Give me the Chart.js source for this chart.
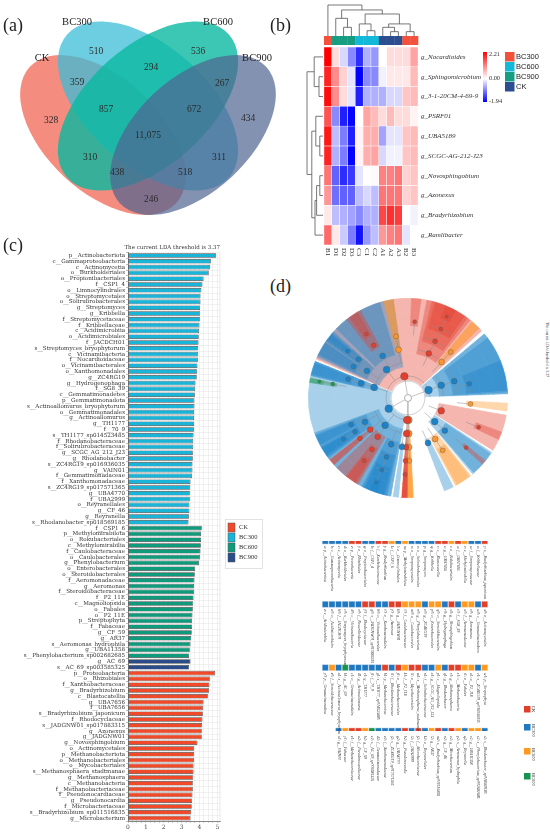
<!DOCTYPE html>
<html>
<head>
<meta charset="utf-8">
<script src="https://cdn.jsdelivr.net/npm/chart.js@4.4.1/dist/chart.umd.min.js"></script>
<style>
html,body{margin:0;padding:0;background:#fff;}
body{position:relative;width:550px;height:834px;overflow:hidden;}
canvas{position:absolute;}
.pl{position:absolute;font-family:"Liberation Serif","DejaVu Serif",serif;font-size:18px;line-height:1;color:#222;}
.rot{position:absolute;font-family:"Liberation Serif",serif;font-size:4px;line-height:1;color:#444;transform-origin:0 0;transform:rotate(90deg);white-space:nowrap;}
</style>
</head>
<body>
<canvas id="cVenn" width="300" height="220" style="left:0;top:0"></canvas>
<canvas id="cHeat" width="260" height="262" style="left:290px;top:0"></canvas>
<canvas id="cLda" width="270" height="596" style="left:0;top:238px"></canvas>
<canvas id="cClado" width="210" height="210" style="left:303px;top:293px"></canvas>
<canvas id="cTable" width="250" height="304" style="left:300px;top:530px"></canvas>
<div class="pl" style="left:3px;top:16px">(a)</div>
<div class="pl" style="left:270px;top:16px">(b)</div>
<div class="pl" style="left:3px;top:236px">(c)</div>
<div class="pl" style="left:270px;top:277px">(d)</div>
<div class="rot" style="left:549px;top:322px">The current LDA threshold is 3.37</div>
<script>
Chart.defaults.animation = false;
Chart.defaults.font.family = '"Liberation Serif", serif';
Chart.defaults.plugins.legend.display = false;
Chart.defaults.plugins.tooltip.enabled = false;

/* ================= DATA ================= */
// (a) Venn
const vennSets = ['CK', 'BC300', 'BC600', 'BC900'];
const vennRegions = ['CK', 'BC300', 'BC600', 'BC900', 'CK&BC300', 'BC300&BC600', 'BC600&BC900', 'CK&BC900',
  'CK&BC600', 'BC300&BC900', 'CK&BC300&BC600', 'BC300&BC600&BC900', 'CK&BC600&BC900', 'CK&BC300&BC900', 'CK&BC300&BC600&BC900'];
const vennCounts = [328, 510, 536, 434, 359, 294, 267, 246, 310, 311, 857, 672, 438, 518, 11075];

// (b) heatmap
const sampleLabels = ['B1', 'D1', 'D2', 'D3', 'C3', 'C1', 'C2', 'A1', 'A2', 'A3', 'B2', 'B3'];
const sampleGroups = ['BC300', 'BC900', 'BC900', 'BC900', 'BC600', 'BC600', 'BC600', 'CK', 'CK', 'CK', 'BC300', 'BC300'];
const heatGenera = ['g_Nocardioides', 'g_Sphingomicrobium', 'g_3-1-20CM-4-69-9', 'g_PSRF01', 'g_UBA5189',
  'g_SCGC-AG-212-J23', 'g_Novosphingobium', 'g_Azonexus', 'g_Bradyrhizobium', 'g_Ramlibacter'];
const heatNocardioides   = [2.21, 0.30, -0.30, -0.90, -1.60, -0.60, -0.80, 0.00, 0.30, 0.30, 0.30, 0.80];
const heatSphingomicrob  = [1.90, 1.00, 0.40, -0.20, -1.94, -0.90, -0.90, -0.10, 0.20, 0.20, 0.20, 0.60];
const heat3_1_20CM       = [2.10, 1.00, 0.30, -0.20, -1.70, -0.60, -0.60, -0.60, -0.30, -0.30, 0.50, 0.60];
const heatPSRF01         = [1.50, -0.90, -1.70, -1.90, 0.00, 0.80, 0.60, 0.30, 0.60, 0.30, 0.30, 0.10];
const heatUBA5189        = [2.00, -0.50, -1.00, -1.70, 0.10, 0.70, 0.70, -0.70, -0.20, -0.20, 0.50, 0.60];
const heatSCGC           = [1.90, -0.60, -1.00, -1.90, 0.10, 0.70, 0.80, -0.30, -0.10, -0.10, 0.50, 0.60];
const heatNovosphingob   = [1.20, -1.20, -1.60, -1.50, -0.20, 0.00, 0.05, 1.10, 1.10, 1.20, 0.40, 0.50];
const heatAzonexus       = [0.90, -1.10, -1.20, -1.20, -0.50, -0.30, -0.50, 1.20, 1.20, 1.20, 0.40, 0.50];
const heatBradyrhizobium = [0.20, -0.50, -0.60, -0.70, -0.90, -0.60, -0.60, 1.60, 1.80, 1.70, 0.00, -0.10];
const heatRamlibacter    = [1.30, 0.20, -0.40, -1.00, -1.80, -0.80, -0.50, 0.90, 1.10, 1.20, -0.20, 0.00];
const heatScaleTicks = [2.21, 0.00, -1.94];
// dendrogram topologies (h = relative merge height)
const colDendro = {h: 1.0, l: 0, r: {h: 0.84, l: {h: 0.57, l: 1, r: {h: 0.28, l: 2, r: 3}},
  r: {h: 0.71, l: {h: 0.39, l: 4, r: {h: 0.17, l: 5, r: 6}}, r: {h: 0.39, l: {h: 0.28, l: 7, r: {h: 0.14, l: 8, r: 9}}, r: {h: 0.14, l: 10, r: 11}}}}};
const rowDendro = {h: 1.0, l: {h: 0.55, l: 0, r: {h: 0.25, l: 1, r: 2}},
  r: {h: 0.7, l: {h: 0.45, l: 3, r: {h: 0.2, l: 4, r: 5}}, r: {h: 0.5, l: {h: 0.4, l: {h: 0.2, l: 6, r: 7}, r: 8}, r: 9}}};

// (c) LDA scores
const bc300Taxa = ['p__Actinobacteriota', 'c__Gammaproteobacteria', 'c__Actinomycetia', 'o__Burkholderiales', 'o__Propionibacteriales',
  'f__CSP1_4', 'o__Limnocylindrales', 'o__Streptomycetales', 'o__Solirubrobacterales', 'g__Streptomyces', 'g__Kribbella',
  'f__Streptomycetaceae', 'f__Kribbellaceae', 'c__Acidimicrobiia', 'o__Acidimicrobiales', 'f__JACDCH01',
  's__Streptomyces_bryophytorum', 'c__Vicinamibacteria', 'f__Nocardioidaceae', 'o__Vicinamibacterales', 'o__Xanthomonadales',
  'g__ZC4RG19', 'g__Hydrogenophaga', 'f__SG8_39', 'c__Gemmatimonadetes', 'p__Gemmatimonadota', 's__Actinoallomurus_bryophytorum',
  'o__Gemmatimonadales', 'g__Actinoallomurus', 'g__TH1177', 'f__70_9', 's__TH1177_sp014523485', 'f__Rhodanobacteraceae',
  'f__Solirubrobacteraceae', 'g__SCGC_AG_212_J23', 'g__Rhodanobacter', 's__ZC4RG19_sp016936035', 'g__VAIN01',
  'f__Gemmatimonadaceae', 'f__Xanthomonadaceae', 's__ZC4RG19_sp017571365', 'g__UBA4770', 'f__UBA2999', 'o__Reyranellales',
  'g__CF_46', 'g__Reyranella', 's__Rhodanobacter_sp018569185'];
const bc300Lda = [4.93, 4.64, 4.60, 4.52, 4.23, 4.17, 4.11, 4.06, 4.06, 4.04, 4.04, 4.02, 4.00, 3.98, 3.96, 3.95, 3.93, 3.93,
  3.91, 3.89, 3.87, 3.85, 3.78, 3.76, 3.74, 3.72, 3.72, 3.70, 3.70, 3.69, 3.69, 3.67, 3.65, 3.65, 3.63, 3.63, 3.61, 3.61,
  3.59, 3.50, 3.48, 3.46, 3.46, 3.44, 3.44, 3.41, 3.39];
const bc600Taxa = ['f__CSP1_6', 'p__Methylomirabilota', 'o__Rokubacteriales', 'c__Methylomirabilia', 'f__Caulobacteraceae',
  'o__Caulobacterales', 'g__Phenylobacterium', 'o__Enterobacterales', 'o__Steroidobacterales', 'f__Aeromonadaceae', 'g__Aeromonas',
  'f__Steroidobacteraceae', 'f__P2_11E', 'c__Magnoliopsida', 'o__Fabales', 'o__P2_11E', 'p__Streptophyta', 'f__Fabaceae',
  'g__CF_59', 'g__AR37', 's__Aeromonas_hydrophila', 'g__UBA11358', 's__Phenylobacterium_sp002682685'];
const bc600Lda = [4.13, 4.09, 4.09, 4.08, 4.06, 4.04, 3.98, 3.76, 3.74, 3.72, 3.70, 3.69, 3.67, 3.65, 3.63, 3.61, 3.59, 3.59,
  3.57, 3.54, 3.50, 3.46, 3.42];
const bc900Taxa = ['g__AC_69', 's__AC_69_sp003585325'];
const bc900Lda = [3.50, 3.42];
const ckTaxa = ['p__Proteobacteria', 'o__Rhizobiales', 'f__Xanthobacteraceae', 'g__Bradyrhizobium', 'c__Blastocatellia',
  'g__UBA7656', 'f__UBA7656', 's__Bradyrhizobium_japonicum', 'f__Rhodocyclaceae', 's__JADGNW01_sp017883315', 'g__Azonexus',
  'g__JADGNW01', 'g__Novosphingobium', 'o__Actinomycetales', 'p__Methanobacteriota', 'o__Methanobacteriales', 'o__Mycobacteriales',
  's__Methanosphaera_stadtmanae', 'g__Methanosphaera', 'c__Methanobacteria', 'f__Methanobacteriaceae', 'f__Pseudonocardiaceae',
  'g__Pseudonocardia', 'f__Microbacteriaceae', 's__Bradyrhizobium_sp011516835', 'g__Microbacterium'];
const ckLda = [4.88, 4.58, 4.56, 4.54, 4.47, 4.23, 4.21, 4.19, 4.17, 4.15, 4.13, 4.13, 3.89, 3.70, 3.69, 3.69, 3.67, 3.67,
  3.65, 3.63, 3.63, 3.61, 3.59, 3.57, 3.54, 3.50];
const ldaThreshold = 3.37;

// (d) cladogram: highlighted clades [taxon, level(0=phylum..5=species), fromDeg, toDeg, group]
const cladeTable = [
  ['p__Methylomirabilota', 0, 177, 180.5, 'BC600'], ['c__Methylomirabilia', 1, 177, 180.5, 'BC600'],
  ['o__Rokubacteriales', 2, 177, 180.5, 'BC600'], ['f__CSP1_6', 3, 177, 180.5, 'BC600'],
  ['p__Methanobacteriota', 0, 180.5, 184, 'CK'], ['c__Methanobacteria', 1, 180.5, 184, 'CK'],
  ['o__Methanobacteriales', 2, 180.5, 184, 'CK'], ['f__Methanobacteriaceae', 3, 180.5, 184, 'CK'],
  ['g__Methanosphaera', 4, 180.5, 184, 'CK'], ['o__Reyranellales', 2, 185.5, 189, 'BC300'],
  ['p__Actinobacteriota', 0, 190, 292, 'BC300'], ['c__Actinomycetia', 1, 190, 250, 'BC300'],
  ['o__Streptomycetales', 2, 192, 208, 'BC300'], ['f__Streptomycetaceae', 3, 193, 207, 'BC300'],
  ['g__Streptomyces', 4, 194, 206, 'BC300'], ['s__Streptomyces_bryophytorum', 5, 198, 203, 'BC300'],
  ['o__Actinomycetales', 2, 210, 226, 'CK'], ['f__Microbacteriaceae', 3, 211, 219, 'CK'],
  ['g__Microbacterium', 4, 212, 218, 'CK'], ['o__Mycobacteriales', 2, 228, 232, 'CK'],
  ['f__Pseudonocardiaceae', 3, 228, 232, 'CK'], ['o__Propionibacteriales', 2, 233, 249, 'BC300'],
  ['f__Kribbellaceae', 3, 234, 241, 'BC300'], ['g__Kribbella', 4, 235, 240, 'BC300'],
  ['f__Nocardioidaceae', 3, 242, 248, 'BC300'], ['g__AC_69', 4, 279, 282, 'BC900'],
  ['s__AC_69_sp003585325', 5, 279, 282, 'BC900'], ['c__Acidimicrobiia', 1, 283, 292, 'BC300'],
  ['o__Acidimicrobiales', 2, 283, 292, 'BC300'], ['f__JACDCH01', 3, 284, 291, 'BC300'],
  ['p__Proteobacteria', 0, 293, 408, 'CK'], ['c__Gammaproteobacteria', 1, 294, 352, 'BC300'],
  ['o__Xanthomonadales', 2, 295, 312, 'BC300'], ['f__Xanthomonadaceae', 3, 296, 304, 'BC300'],
  ['f__Rhodanobacteraceae', 3, 305, 311, 'BC300'], ['g__Rhodanobacter', 4, 306, 310, 'BC300'],
  ['o__Burkholderiales', 2, 314, 344, 'BC300'], ['f__Rhodocyclaceae', 3, 322, 332, 'CK'],
  ['g__Azonexus', 4, 324, 330, 'CK'], ['o__Steroidobacterales', 2, 346, 352, 'BC600'],
  ['f__Steroidobacteraceae', 3, 346, 352, 'BC600'], ['g__Novosphingobium', 4, 362, 368, 'CK'],
  ['o__Rhizobiales', 2, 371, 399, 'CK'], ['f__Xanthobacteraceae', 3, 374, 397, 'CK'],
  ['g__Bradyrhizobium', 4, 376, 395, 'CK'], ['s__Bradyrhizobium_japonicum', 5, 382, 389, 'CK'],
  ['o__Caulobacterales', 2, 400, 406, 'BC600'], ['f__Caulobacteraceae', 3, 400, 406, 'BC600'],
  ['p__Gemmatimonadota', 0, 410, 448, 'BC300'], ['c__Gemmatimonadetes', 1, 410, 448, 'BC300'],
  ['o__Gemmatimonadales', 2, 413, 447, 'BC300'], ['f__Gemmatimonadaceae', 3, 428, 446, 'BC300'],
  ['o__Fabales', 3, 453, 458, 'BC600'], ['c__Blastocatellia', 1, 460, 482, 'CK'],
  ['g__UBA7656', 4, 470, 475, 'CK'], ['c__Vicinamibacteria', 1, 483, 500, 'BC300'],
  ['o__Vicinamibacterales', 2, 484, 499, 'BC300'], ['g__JADGNW01', 4, 489, 492, 'CK'],
  ['o__Enterobacterales', 2, 501, 512, 'BC600'], ['f__Aeromonadaceae', 3, 502, 511, 'BC600'],
  ['o__Solirubrobacterales', 2, 513, 519, 'BC300']
];
// (d) biomarker key table: group of each cell (R=CK, B=BC300, O=BC600, G=BC900)
const tableGroupRows = ['BBBBRRBBRROBOBBBBRROROBBR', 'BBBBBBRRBBRROOOBOOBRBOOBR', 'BOBGBBBBBRBRORRBBOBRROOBO', 'BORROGBBBBRBRBORBROBOOB'];

/* ================= (a) VENN ================= */
const vennLayout = {
  ellipse: {CK: [103, 135, 100, 57, 43, 'rgba(242,120,105,0.85)'], BC300: [148, 106, 108, 60, 41.5, 'rgba(60,190,215,0.75)'],
    BC600: [148, 106, 108, 60, -41.5, 'rgba(10,185,160,0.8)'], BC900: [193, 135, 100, 57, -43, 'rgba(80,100,145,0.7)']},
  setLabel: {CK: [42, 58], BC300: [77, 22], BC600: [218, 22], BC900: [257, 58]},
  region: {'CK': [51, 120], 'BC300': [96, 51], 'BC600': [198, 51], 'BC900': [248, 118], 'CK&BC300': [77, 82],
    'BC300&BC600': [151, 67], 'BC600&BC900': [222, 83], 'CK&BC900': [151, 199], 'CK&BC600': [90, 157],
    'BC300&BC900': [219, 157], 'CK&BC300&BC600': [106, 109], 'BC300&BC600&BC900': [194, 109],
    'CK&BC600&BC900': [117, 172], 'CK&BC300&BC900': [185, 172], 'CK&BC300&BC600&BC900': [148, 135]}
};
const vennPlugin = {
  id: 'venn',
  beforeDatasetsDraw(chart) {
    const {ctx, scales: {x, y}} = chart;
    const sx = x.getPixelForValue(1) - x.getPixelForValue(0), sy = y.getPixelForValue(1) - y.getPixelForValue(0);
    ctx.save();
    vennSets.forEach(s => {
      const e = vennLayout.ellipse[s];
      ctx.beginPath();
      ctx.ellipse(x.getPixelForValue(e[0]), y.getPixelForValue(e[1]), e[2] * sx, e[3] * Math.abs(sy), e[4] * Math.PI / 180, 0, Math.PI * 2);
      ctx.fillStyle = e[5];
      ctx.fill();
    });
    ctx.restore();
  },
  afterDatasetsDraw(chart) {
    const {ctx, scales: {x, y}} = chart;
    const meta = chart.getDatasetMeta(0);
    ctx.save();
    ctx.textAlign = 'center'; ctx.textBaseline = 'middle';
    ctx.fillStyle = '#2b2b2b';
    ctx.font = '9.5px "Liberation Serif"';
    meta.data.forEach((pt, i) => ctx.fillText(vennCounts[i].toLocaleString('en-US'), pt.x, pt.y));
    ctx.font = '10.5px "Liberation Serif"';
    ctx.fillStyle = '#222';
    vennSets.forEach(s => {
      const p = vennLayout.setLabel[s];
      ctx.fillText(s, x.getPixelForValue(p[0]), y.getPixelForValue(p[1]));
    });
    ctx.restore();
  }
};
new Chart(document.getElementById('cVenn'), {
  type: 'scatter',
  data: {datasets: [{data: vennRegions.map(r => ({x: vennLayout.region[r][0], y: vennLayout.region[r][1]})), pointRadius: 0}]},
  options: {responsive: false, layout: {padding: 0},
    scales: {x: {display: false, min: 0, max: 300}, y: {display: false, min: 0, max: 220, reverse: true}}},
  plugins: [vennPlugin]
});

/* ================= (b) HEATMAP ================= */
const heatRows = [heatNocardioides, heatSphingomicrob, heat3_1_20CM, heatPSRF01, heatUBA5189, heatSCGC,
  heatNovosphingob, heatAzonexus, heatBradyrhizobium, heatRamlibacter];
const heatGroupColor = {BC300: '#f4513c', BC600: '#14b8d8', BC900: '#179e82', CK: '#2d4e8e'};
function heatColor(v) {
  const hi = heatScaleTicks[0], lo = heatScaleTicks[2];
  if (v >= 0) { const t = Math.min(1, v / hi); const c = Math.round(255 * (1 - t)); return `rgb(255,${c},${c})`; }
  const t = Math.min(1, v / lo); const c = Math.round(255 * (1 - t)); return `rgb(${c},${c},255)`;
}
const heatDecor = {
  id: 'heatDecor',
  afterDraw(chart) {
    const {ctx, chartArea: ca, scales: {x, y}} = chart;
    const colW = (ca.right - ca.left) / sampleLabels.length;
    ctx.save();
    sampleLabels.forEach((s, i) => {
      ctx.fillStyle = heatGroupColor[sampleGroups[i]];
      ctx.fillRect(x.getPixelForValue(i) - colW / 2, 36, colW + 0.3, 9);
    });
    ctx.strokeStyle = '#555'; ctx.lineWidth = 0.8;
    const topY = h => 36 - h * 31;
    function drawCol(n) {
      if (typeof n === 'number') return [x.getPixelForValue(n), 0];
      const a = drawCol(n.l), b = drawCol(n.r);
      ctx.beginPath();
      ctx.moveTo(a[0], topY(a[1])); ctx.lineTo(a[0], topY(n.h)); ctx.lineTo(b[0], topY(n.h)); ctx.lineTo(b[0], topY(b[1]));
      ctx.stroke();
      return [(a[0] + b[0]) / 2, n.h];
    }
    drawCol(colDendro);
    const leftX = h => 33 - h * 16;
    function drawRow(n) {
      if (typeof n === 'number') return [y.getPixelForValue(heatGenera.length - n - 0.5), 0];
      const a = drawRow(n.l), b = drawRow(n.r);
      ctx.beginPath();
      ctx.moveTo(leftX(a[1]), a[0]); ctx.lineTo(leftX(n.h), a[0]); ctx.lineTo(leftX(n.h), b[0]); ctx.lineTo(leftX(b[1]), b[0]);
      ctx.stroke();
      return [(a[0] + b[0]) / 2, n.h];
    }
    drawRow(rowDendro);
    ctx.fillStyle = '#333';
    ctx.font = 'italic 7px "Liberation Serif"';
    ctx.textBaseline = 'middle'; ctx.textAlign = 'left';
    heatGenera.forEach((g, r) => ctx.fillText(g, ca.right + 3, y.getPixelForValue(heatGenera.length - r - 0.5)));
    ctx.font = '7px "Liberation Serif"';
    sampleLabels.forEach((s, i) => {
      ctx.save(); ctx.translate(x.getPixelForValue(i), ca.bottom + 3); ctx.rotate(Math.PI / 2);
      ctx.fillText(s, 0, 0); ctx.restore();
    });
    const g = ctx.createLinearGradient(0, 52, 0, 102);
    g.addColorStop(0, heatColor(heatScaleTicks[0]));
    g.addColorStop(heatScaleTicks[0] / (heatScaleTicks[0] - heatScaleTicks[2]), '#ffffff');
    g.addColorStop(1, heatColor(heatScaleTicks[2]));
    ctx.fillStyle = g; ctx.fillRect(193, 52, 4, 50);
    ctx.fillStyle = '#333'; ctx.font = '6.3px "Liberation Serif"';
    const tickY = [54, 78, 101];
    heatScaleTicks.forEach((t, i) => ctx.fillText(t.toFixed(2), 199, tickY[i]));
    ctx.font = '7.5px "Liberation Sans"';
    ['BC300', 'BC600', 'BC900', 'CK'].forEach((k, i) => {
      ctx.fillStyle = heatGroupColor[k]; ctx.fillRect(215, 52 + i * 10, 9.5, 9.5);
      ctx.fillStyle = '#222'; ctx.fillText(k, 226, 57 + i * 10);
    });
    ctx.restore();
  }
};
new Chart(document.getElementById('cHeat'), {
  type: 'bar',
  data: {
    labels: sampleLabels,
    datasets: heatRows.map((row, r) => ({
      label: heatGenera[r], data: row.map(() => 1), backgroundColor: row.map(heatColor),
      borderColor: '#ffffff', borderWidth: 0.5, borderSkipped: false, barPercentage: 1, categoryPercentage: 1
    })).reverse()
  },
  options: {
    responsive: false, layout: {padding: {left: 34, top: 47, right: 132, bottom: 17}},
    scales: {x: {display: false, stacked: true}, y: {display: false, stacked: true, min: 0, max: heatGenera.length}}
  },
  plugins: [heatDecor]
});

/* ================= (c) LDA ================= */
const ldaGroups = [
  {name: 'CK', taxa: ckTaxa, lda: ckLda, color: '#f14a2b'},
  {name: 'BC300', taxa: bc300Taxa, lda: bc300Lda, color: '#19b4d7'},
  {name: 'BC600', taxa: bc600Taxa, lda: bc600Lda, color: '#0f9a7b'},
  {name: 'BC900', taxa: bc900Taxa, lda: bc900Lda, color: '#2a4c8b'}
];
const ldaOrder = ['BC300', 'BC600', 'BC900', 'CK'];
const allTaxa = [];
ldaOrder.forEach(n => allTaxa.push(...ldaGroups.find(g => g.name === n).taxa));
const ldaLegend = {
  id: 'ldaLegend',
  afterDraw(chart) {
    const ctx = chart.ctx, ca = chart.chartArea;
    ctx.save();
    ctx.strokeStyle = '#d8d8d8'; ctx.lineWidth = 0.6;
    ctx.beginPath(); ctx.moveTo(ca.right, ca.top); ctx.lineTo(ca.right, ca.bottom); ctx.stroke();
    ctx.strokeStyle = '#cfcfcf';
    ctx.strokeRect(225.5, 281.5, 37, 49);
    ctx.font = '6.5px "Liberation Serif"'; ctx.textBaseline = 'middle';
    chart.data.datasets.forEach((ds, i) => {
      ctx.fillStyle = ds.backgroundColor; ctx.fillRect(228, 285 + i * 10, 7, 9);
      ctx.strokeStyle = '#555'; ctx.lineWidth = 0.5; ctx.strokeRect(228, 285 + i * 10, 7, 9);
      ctx.fillStyle = '#333'; ctx.fillText(ds.label, 239, 289.5 + i * 10);
    });
    ctx.restore();
  }
};
new Chart(document.getElementById('cLda'), {
  type: 'bar',
  data: {
    labels: allTaxa,
    datasets: ldaGroups.map(g => ({
      label: g.name,
      data: allTaxa.map(t => { const k = g.taxa.indexOf(t); return k >= 0 ? g.lda[k] : null; }),
      backgroundColor: g.color, borderColor: '#4a4a4a', borderWidth: 0.7, borderSkipped: false,
      barPercentage: 0.8, categoryPercentage: 1, grouped: false
    }))
  },
  options: {
    indexAxis: 'y', responsive: false,
    layout: {padding: {top: 4, right: 50, bottom: 1, left: 0}},
    plugins: {title: {display: true, text: 'The current LDA threshold is ' + ldaThreshold, align: 'end',
      font: {family: '"DejaVu Serif"', size: 5.5, weight: 'normal'}, color: '#333', padding: {top: 2, bottom: 2}}},
    scales: {
      y: {ticks: {autoSkip: false, font: {family: '"DejaVu Serif"', size: 5.6}, color: '#333', padding: 1},
        grid: {color: '#e3e3e3', lineWidth: 0.5, tickLength: 2, tickColor: '#777', offset: true},
        border: {color: '#888'}, afterFit(s) { s.width = 128; }},
      x: {min: 0, max: 5.15, ticks: {stepSize: 0.25, includeBounds: false, autoSkip: false, maxRotation: 0,
          font: {family: '"DejaVu Serif"', size: 6}, color: '#444', padding: 1,
          callback: v => Math.abs(v - Math.round(v)) < 1e-6 ? String(Math.round(v)) : ''},
        grid: {color: '#e3e3e3', lineWidth: 0.5, tickLength: 2, tickColor: '#999'},
        border: {color: '#888'}, afterFit(s) { s.height = 12; }}
    }
  },
  plugins: [ldaLegend]
});

/* ================= (d) CLADOGRAM ================= */
const dGroupRGB = {CK: [228, 62, 45], BC300: [25, 130, 200], BC600: [255, 150, 40], BC900: [30, 150, 80]};
const cladoStart = 160, cladoLevels = 6, shadeAlpha = 0.38;
function buildRings() {
  const rings = [];
  for (let L = 0; L < cladoLevels; L++) {
    const cl = cladeTable.filter(c => c[1] <= L);
    const b = new Set([cladoStart, cladoStart + 360]);
    cl.forEach(c => { b.add(c[2]); b.add(c[3]); });
    const bs = [...b].sort((p, q) => p - q);
    const segs = [];
    for (let i = 0; i < bs.length - 1; i++) {
      const a0 = bs[i], a1 = bs[i + 1];
      const mid = (a0 + a1) / 2;
      const cover = cl.filter(c => c[2] <= mid && mid < c[3]).sort((p, q) => p[1] - q[1]);
      let col = [255, 255, 255];
      cover.forEach(c => { const g = dGroupRGB[c[4]]; col = col.map((v, k) => v * (1 - shadeAlpha) + g[k] * shadeAlpha); });
      segs.push({from: a0, to: a1, span: a1 - a0, color: `rgb(${col.map(Math.round).join(',')})`});
    }
    rings.push(segs);
  }
  return rings;
}
const cladoRings = buildRings();
const cladoTree = {
  id: 'cladoTree',
  afterDatasetsDraw(chart) {
    const ctx = chart.ctx;
    const inner = chart.getDatasetMeta(cladoLevels - 1).data[0];
    const cx = inner.x, cy = inner.y, r0 = inner.innerRadius, th = inner.outerRadius - inner.innerRadius;
    const nodeR = L => L < 0 ? 4 : r0 + th * (L + 0.3);
    ctx.save();
    ctx.strokeStyle = '#9a9a9a'; ctx.lineWidth = 0.5;
    ctx.beginPath(); ctx.arc(cx, cy, r0 - 1, 0, Math.PI * 2); ctx.stroke();
    const nodes = [];
    cladeTable.forEach(c => {
      const L = c[1], meta = chart.getDatasetMeta(cladoLevels - 1 - L), segs = cladoRings[L];
      const i0 = segs.findIndex(s => s.from === c[2]), i1 = segs.findIndex(s => s.to === c[3]);
      if (i0 < 0 || i1 < 0) return;
      const a0 = meta.data[i0].startAngle, a1 = meta.data[i1].endAngle, a = (a0 + a1) / 2;
      const r = nodeR(L), rp = nodeR(L - 1);
      ctx.strokeStyle = '#8a8a8a';
      ctx.beginPath(); ctx.moveTo(cx + rp * Math.cos(a), cy + rp * Math.sin(a)); ctx.lineTo(cx + r * Math.cos(a), cy + r * Math.sin(a)); ctx.stroke();
      if (a1 - a0 > 0.05) { ctx.beginPath(); ctx.arc(cx, cy, r, a0 + 0.02, a1 - 0.02); ctx.stroke(); }
      nodes.push([cx + r * Math.cos(a), cy + r * Math.sin(a), Math.max(1.6, 3.8 - 0.45 * L), c[4]]);
    });
    nodes.forEach(n => {
      const g = dGroupRGB[n[3]];
      ctx.beginPath(); ctx.arc(n[0], n[1], n[2], 0, Math.PI * 2);
      ctx.fillStyle = `rgb(${g.join(',')})`; ctx.fill();
      ctx.strokeStyle = '#555'; ctx.lineWidth = 0.4; ctx.stroke();
    });
    ctx.beginPath(); ctx.arc(cx, cy, 3.5, 0, Math.PI * 2); ctx.fillStyle = '#fff'; ctx.fill();
    ctx.strokeStyle = '#777'; ctx.lineWidth = 0.6; ctx.stroke();
    ctx.restore();
  }
};
new Chart(document.getElementById('cClado'), {
  type: 'doughnut',
  data: {
    labels: [],
    datasets: cladoRings.map(segs => ({
      data: segs.map(s => s.span), backgroundColor: segs.map(s => s.color),
      borderColor: segs.map(s => s.color), borderWidth: 0.8, hoverOffset: 0
    })).reverse()
  },
  options: {responsive: false, rotation: cladoStart, circumference: 360, cutout: '18%', layout: {padding: 5}},
  plugins: [cladoTree]
});

/* ================= (d) KEY TABLE ================= */
const letterGroup = {R: 'CK', B: 'BC300', O: 'BC600', G: 'BC900'};
const keyRGB = {CK: '#e0402a', BC300: '#1f78c0', BC600: '#ff9a1e', BC900: '#17934f'};
const groupTaxa = {CK: ckTaxa, BC300: bc300Taxa, BC600: bc600Taxa, BC900: bc900Taxa};
const used = {CK: 0, BC300: 0, BC600: 0, BC900: 0};
const keyPoints = {CK: [], BC300: [], BC600: [], BC900: []};
let codeIdx = 0;
const codeOf = k => 'abcdefghijklmnopqrstuvwxyz'[k % 26] + (k >= 26 ? String(Math.floor(k / 26) - 1) : '');
tableGroupRows.forEach((row, r) => {
  const offset = 25 - row.length;
  [...row].forEach((ch, i) => {
    const g = letterGroup[ch];
    const name = groupTaxa[g][used[g]++ % groupTaxa[g].length];
    keyPoints[g].push({x: i + offset, y: r, label: codeOf(codeIdx++) + ': ' + name});
  });
});
const keyDecor = {
  id: 'keyDecor',
  afterDatasetsDraw(chart) {
    const ctx = chart.ctx;
    ctx.save();
    ctx.fillStyle = '#333'; ctx.font = 'italic 3.9px "Liberation Serif"'; ctx.textBaseline = 'middle'; ctx.textAlign = 'left';
    chart.data.datasets.forEach((ds, d) => {
      chart.getDatasetMeta(d).data.forEach((pt, i) => {
        ctx.save(); ctx.translate(pt.x, pt.y + 5); ctx.rotate(Math.PI / 2);
        ctx.fillText(ds.data[i].label, 0, 0); ctx.restore();
      });
    });
    ctx.font = '4.5px "Liberation Serif"';
    const ky = [176, 194, 218, 243];
    ['CK', 'BC300', 'BC600', 'BC900'].forEach((k, i) => {
      ctx.fillStyle = keyRGB[k]; ctx.fillRect(224, ky[i], 6.5, 6.5);
      ctx.fillStyle = '#333';
      ctx.save(); ctx.translate(233, ky[i]); ctx.rotate(Math.PI / 2); ctx.fillText(k, 0, 0); ctx.restore();
    });
    ctx.restore();
  }
};
new Chart(document.getElementById('cTable'), {
  type: 'scatter',
  data: {datasets: ['CK', 'BC300', 'BC600', 'BC900'].map(g => ({
    label: g, data: keyPoints[g], pointStyle: 'rect', pointRadius: 4.4, backgroundColor: keyRGB[g],
    borderColor: '#ffffff', borderWidth: 0.4
  }))},
  options: {
    responsive: false, layout: {padding: {left: 22, right: 62, top: 11, bottom: 103}},
    scales: {x: {display: false, min: -0.5, max: 24.5}, y: {display: false, min: 0, max: 3, reverse: true}}
  },
  plugins: [keyDecor]
});
</script>
</body>
</html>
